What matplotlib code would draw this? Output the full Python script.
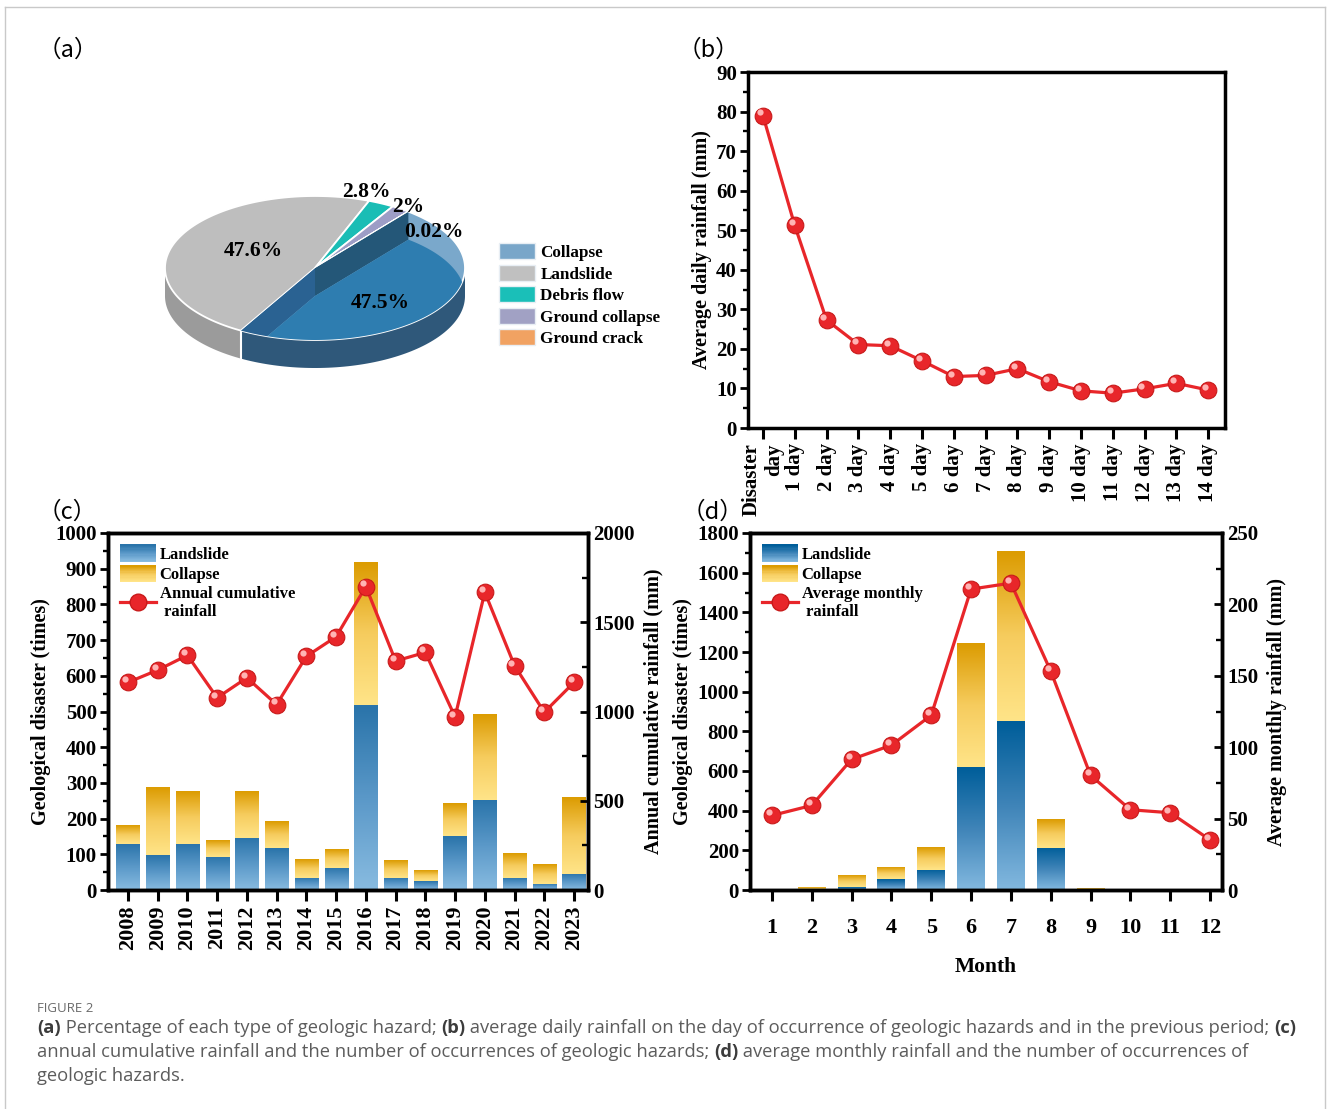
import numpy as np
import matplotlib
matplotlib.use('Agg')
import matplotlib.pyplot as plt
from matplotlib.patches import Polygon, Rectangle
from matplotlib.colors import LinearSegmentedColormap
from matplotlib.legend_handler import HandlerBase
from matplotlib.lines import Line2D
from matplotlib.ticker import MultipleLocator
from matplotlib.transforms import offset_copy

# (a) share of each hazard type
hazard_types = ['Collapse', 'Landslide', 'Debris flow', 'Ground collapse', 'Ground crack']
hazard_pct = [47.5, 47.6, 2.8, 2.0, 0.02]
pct_labels = ['47.5%', '47.6%', '2.8%', '2%', '0.02%']

# (b) average daily rainfall before the disaster
day_labels = ['Disaster\nday'] + ['%d day' % i for i in range(1, 15)]
daily_rain = [79.0, 51.2, 27.3, 21.1, 20.8, 17.0, 13.0, 13.3, 15.0, 11.7, 9.4, 8.8, 9.9, 11.3, 9.6]

# (c) yearly counts and rainfall
years = [str(y) for y in range(2008, 2024)]
year_landslide = [130, 97, 130, 93, 147, 117, 35, 62, 517, 35, 25, 150, 253, 35, 17, 45]
year_collapse = [53, 188, 148, 47, 131, 73, 52, 51, 398, 48, 30, 90, 240, 68, 55, 215]
year_rain = [1163, 1232, 1315, 1077, 1189, 1039, 1309, 1419, 1700, 1283, 1331, 970, 1668, 1257, 996, 1163]

# (d) monthly counts and rainfall
months = [str(m) for m in range(1, 13)]
month_landslide = [0, 0, 15, 55, 103, 618, 850, 212, 0, 0, 0, 0]
month_collapse = [0, 15, 57, 60, 115, 625, 853, 145, 8, 0, 0, 0]
month_rain = [52.2, 59.2, 91.5, 101.4, 122.4, 210.7, 214.9, 153.3, 80.3, 56.2, 54.1, 35.1]

W, H = 1328, 1109
SERIF = 'Liberation Serif'
plt.rcParams['font.family'] = SERIF
plt.rcParams['font.weight'] = 'bold'
plt.rcParams['axes.labelweight'] = 'bold'

fig = plt.figure(figsize=(W / 100, H / 100), dpi=100)


def box(l, t, r, b):
    return [l / W, 1 - b / H, (r - l) / W, (b - t) / H]


RED = '#e8262a'
TICK_FS = 15
LAB_FS = 14.5
land_c = LinearSegmentedColormap.from_list('land_c', ['#88bbe0', '#5a98c8', '#2a74aa'])
land_d = LinearSegmentedColormap.from_list('land_d', ['#82b8df', '#3f84b8', '#005e9a'])
coll = LinearSegmentedColormap.from_list('coll', ['#ffe488', '#f6cc5e', '#dc9c02'])


def style(ax, xfs):
    for s in ax.spines.values():
        s.set_linewidth(2.5)
    ax.tick_params(axis='y', which='major', direction='out', length=6, width=2,
                   labelsize=TICK_FS, pad=2)
    ax.tick_params(axis='x', which='major', direction='out', length=8, width=2.2,
                   labelsize=xfs, pad=3)
    ax.tick_params(axis='y', which='minor', direction='out', length=3.5, width=1.7)
    ax.tick_params(axis='x', which='minor', bottom=False)
    ax.tick_params(top=False, right=False)


def grad_bar(ax, x, bottom, height, width, cmap):
    if height <= 0:
        return
    img = np.linspace(1, 0, 80).reshape(-1, 1)
    ax.imshow(img, cmap=cmap, vmin=0, vmax=1, aspect='auto', origin='upper',
              extent=[x - width / 2, x + width / 2, bottom, bottom + height],
              interpolation='bilinear', zorder=2)


def spheres(ax, x, y):
    ax.plot(x, y, color=RED, lw=2.3, marker='o', ms=12, mfc=RED, mec='#c81a1a',
            mew=0.8, zorder=3)
    tr = offset_copy(ax.transData, fig=fig, x=-2.2, y=2.2, units='points')
    ax.plot(x, y, 'o', ms=4.5, color='#ffb4b4', mec='none', transform=tr, zorder=4)


class GradHandler(HandlerBase):
    def __init__(self, cmap):
        super().__init__()
        self.cmap = cmap

    def create_artists(self, legend, orig_handle, xdescent, ydescent, width, height,
                       fontsize, trans):
        arts = []
        n = 14
        for i in range(n):
            r = Rectangle((-xdescent, -ydescent + height * i / n), width, height / n + 0.4,
                          facecolor=self.cmap(i / (n - 1)), edgecolor='none', transform=trans)
            arts.append(r)
        return arts


def bar_panel(pos, labels, land, coll_vals, rain, cmap_land, xlim, ylim, ystep, rlim, rstep,
              rain_label, left_label, right_label, bw, rot, xfs):
    ax = fig.add_axes(pos)
    x = np.arange(len(labels))
    for i in x:
        grad_bar(ax, i, 0, land[i], bw, cmap_land)
        grad_bar(ax, i, land[i], coll_vals[i], bw, coll)
    ax.set_xlim(*xlim)
    ax.set_ylim(0, ylim)
    ax.set_yticks(np.arange(0, ylim + 1, ystep))
    ax.yaxis.set_minor_locator(MultipleLocator(ystep / 2))
    ax.set_xticks(x)
    ax.set_xticklabels(labels, rotation=rot)
    style(ax, xfs)
    ax.set_ylabel(left_label, fontsize=LAB_FS, labelpad=3)
    ax2 = ax.twinx()
    spheres(ax2, x, rain)
    ax2.set_ylim(0, rlim)
    ax2.set_yticks(np.arange(0, rlim + 1, rstep))
    ax2.yaxis.set_minor_locator(MultipleLocator(rstep / 2))
    for s in ax2.spines.values():
        s.set_linewidth(2.5)
    ax2.tick_params(axis='y', which='major', direction='in', length=6, width=2,
                    labelsize=TICK_FS, pad=4)
    ax2.tick_params(axis='y', which='minor', direction='in', length=4, width=1.7)
    ax2.set_ylabel(right_label, fontsize=LAB_FS, labelpad=6)
    h1, h2 = Rectangle((0, 0), 1, 1), Rectangle((0, 0), 1, 1)
    hl = Line2D([], [], color=RED, lw=2.3, marker='o', ms=12, mfc=RED, mec='#c81a1a')
    ax2.legend([h1, h2, hl], ['Landslide', 'Collapse', rain_label], loc='upper left',
               frameon=False, prop={'family': SERIF, 'weight': 'bold', 'size': 12},
               handlelength=2.2, handleheight=1.2, labelspacing=0.15, handletextpad=0.2,
               borderaxespad=0.3, borderpad=0.4, numpoints=1,
               handler_map={h1: GradHandler(cmap_land), h2: GradHandler(coll)})
    return ax, ax2


# ---------- (a) pseudo 3D pie ----------
axa = fig.add_axes(box(120, 150, 690, 420))
axa.set_xlim(120, 690)
axa.set_ylim(420, 150)
axa.axis('off')
cx, cy, rx, ry, dep = 315, 268, 150, 72, 28
tot = sum(hazard_pct)
edges = [51.5]
for p in hazard_pct:
    edges.append(edges[-1] - p / tot * 360)


def rim(th, drop=0.0):
    t = np.radians(np.atleast_1d(th))
    return np.column_stack([cx + rx * np.cos(t), cy - ry * np.sin(t) + drop])


top_cols = ['#2e7db0', '#bebebe', '#1abdb5', '#9d9dc6', '#f0a060']
side_cols = ['#2f587a', '#9b9b9b', '#109a93', '#7676a0', '#c77a3a']
for i in range(len(hazard_pct)):
    lo, hi = edges[i + 1], edges[i]
    for k in range(-2, 2):
        a, b = max(lo, 180 + 360 * k), min(hi, 360 + 360 * k)
        if b > a:
            th = np.linspace(a, b, 80)
            poly = np.vstack([rim(th), rim(th, dep)[::-1]])
            axa.add_patch(Polygon(poly, closed=True, fc=side_cols[i], ec='none'))
p240 = rim(edges[1])[0]
axa.plot([p240[0], p240[0]], [p240[1], p240[1] + dep], color='white', lw=1.5)

for i in range(len(hazard_pct)):
    lo, hi = edges[i + 1], edges[i]
    th = np.linspace(lo, hi, max(int((hi - lo) * 2), 3))
    poly = np.vstack([[cx, cy], rim(th)])
    if i == 0:
        base = Polygon(poly, closed=True, fc='#7aa8cb', ec='white', lw=1.3, zorder=2)
        axa.add_patch(base)
        for ang, col in [(hi, '#245778'), (lo, '#2a6292')]:
            q = np.array([[cx, cy], rim(ang)[0], rim(ang, dep)[0], [cx, cy + dep]])
            pq = Polygon(q, closed=True, fc=col, ec='none', zorder=2.1)
            axa.add_patch(pq)
            pq.set_clip_path(base)
        low = poly.copy()
        low[:, 1] += dep
        pl = Polygon(low, closed=True, fc=top_cols[0], ec='none', zorder=2.2)
        axa.add_patch(pl)
        pl.set_clip_path(base)
    else:
        axa.add_patch(Polygon(poly, closed=True, fc=top_cols[i], ec='white', lw=1.3, zorder=2))

pie_lab_pos = [(380, 303), (253, 251), (366, 192), (408, 207), (434, 232)]
for s, (px, py) in zip(pct_labels, pie_lab_pos):
    axa.text(px, py, s, ha='center', va='center', fontsize=15.5, family=SERIF,
             weight='bold', zorder=5)

pie_handles = [Rectangle((0, 0), 1, 1, fc=c, ec='#e8eef4', lw=1)
               for c in ['#79a6c9', '#c0c0c0', '#1abfb8', '#a1a1c4', '#f1a262']]
fig.legend(pie_handles, hazard_types, loc='upper left', bbox_to_anchor=(484 / W, 1 - 228 / H),
           frameon=False, prop={'family': SERIF, 'weight': 'bold', 'size': 12.3},
           handlelength=2.1, handleheight=1.05, labelspacing=0.22, handletextpad=0.3)

# ---------- (b) daily rainfall ----------
axb = fig.add_axes(box(748, 72, 1225, 428))
xb = np.arange(len(daily_rain))
spheres(axb, xb, daily_rain)
axb.set_xlim(-0.47, 14.53)
axb.set_ylim(0, 90)
axb.set_yticks(range(0, 91, 10))
axb.yaxis.set_minor_locator(MultipleLocator(5))
axb.set_xticks(xb)
axb.set_xticklabels(day_labels, rotation=90, ha='center', va='top', multialignment='right')
style(axb, 15)
axb.set_ylabel('Average daily rainfall (mm)', fontsize=LAB_FS, labelpad=3)

# ---------- (c) yearly ----------
bar_panel(box(108, 533, 588, 890), years, year_landslide, year_collapse, year_rain, land_c,
          (-0.67, 15.47), 1000, 100, 2000, 500, 'Annual cumulative\n rainfall',
          'Geological disaster (times)', 'Annual cumulative rainfall (mm)', 0.78, 90, 16)

# ---------- (d) monthly ----------
axd, axd2 = bar_panel(box(750, 533, 1222, 890), months, month_landslide, month_collapse,
                      month_rain, land_d, (0.45 - 1, 12.3 - 1), 1800, 200, 250, 50,
                      'Average monthly\n rainfall', 'Geological disaster (times)',
                      'Average monthly rainfall (mm)', 0.7, 0, 16)
axd.tick_params(axis='x', pad=12)
axd.set_xlabel('Month', fontsize=15.5, labelpad=14)

# panel tags
for tag, (px, py) in zip('abcd', [(38, 50), (678, 50), (38, 512), (682, 512)]):
    fig.text(px / W, 1 - py / H, '（%s）' % tag, family=['Noto Sans CJK SC', 'DejaVu Sans'],
             weight='normal', fontsize=17, va='center', ha='left')

# frame lines
for xs, ys in [([5, 5], [7, H]), ([5, 1325], [7, 7]), ([1325, 1325], [7, H])]:
    fig.add_artist(Line2D([x / W for x in xs], [1 - y / H for y in ys], transform=fig.transFigure,
                          color='#c9c9c9', lw=1))

# caption
CAP = 'Open Sans'
cap_fs = 13.2
r = fig.canvas.get_renderer()


def run_width(s, weight):
    t = fig.text(0, 0, s + 'l', fontsize=cap_fs, family=CAP, weight=weight)
    t2 = fig.text(0, 0, 'l', fontsize=cap_fs, family=CAP, weight=weight)
    w = t.get_window_extent(r).width - t2.get_window_extent(r).width
    t.remove()
    t2.remove()
    return w


fig.text(37 / W, 1 - 1008 / H, 'FIGURE 2', family=CAP, weight='normal', fontsize=9.5,
         color='#6a6a6a', va='center')
cap_lines = [
    [('(a)', 'bold'), (' Percentage of each type of geologic hazard; ', 'normal'), ('(b)', 'bold'),
     (' average daily rainfall on the day of occurrence of geologic hazards and in the previous period; ', 'normal'),
     ('(c)', 'bold')],
    [('annual cumulative rainfall and the number of occurrences of geologic hazards; ', 'normal'),
     ('(d)', 'bold'), (' average monthly rainfall and the number of occurrences of', 'normal')],
    [('geologic hazards.', 'normal')],
]
for j, line in enumerate(cap_lines):
    x = 37.0
    y = 1028 + 24 * j
    for s, wgt in line:
        fig.text(x / W, 1 - y / H, s, family=CAP, weight=wgt, fontsize=cap_fs,
                 color='#3c3c3c' if wgt == 'bold' else '#5c5c5c', va='center')
        x += run_width(s, wgt)

fig.savefig('out.png', dpi=100)
